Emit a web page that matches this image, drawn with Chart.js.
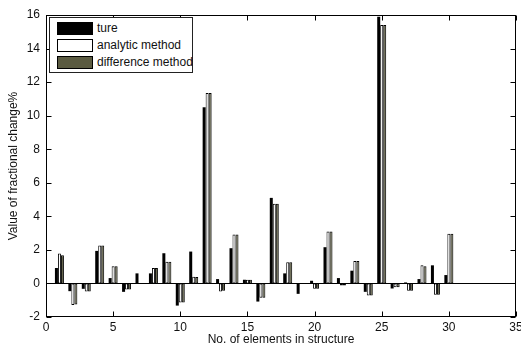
<!DOCTYPE html>
<html>
<head>
<meta charset="utf-8">
<script src="https://cdn.jsdelivr.net/npm/chart.js@4/dist/chart.umd.min.js"></script>
<style>
  html, body { margin: 0; padding: 0; background: #fff; }
  #wrap { position: relative; width: 521px; height: 349px; }
  #legend {
    position: absolute; left: 49px; top: 17px; width: 142px; height: 54px;
    border: 1px solid #222; background: #fff; box-sizing: content-box;
    font-family: "Liberation Sans", Arial, sans-serif; font-size: 12px; color: #111;
  }
  .row { position: absolute; left: 7px; height: 13px; display: flex; align-items: center; }
  .sw { width: 34px; height: 11px; border: 1px solid #000; margin-right: 4px; }
  .lbl { line-height: 13px; white-space: nowrap; }
</style>
</head>
<body>
<div id="wrap">
  <canvas id="c" width="521" height="349"></canvas>
  <div id="legend"></div>
</div>
<script>
const categories = [1,2,3,4,5,6,7,8,9,10,11,12,13,14,15,16,17,18,19,20,21,22,23,24,25,26,27,28,29,30];
const ture       = [0.92,-0.46,-0.32,1.94,0.32,-0.50,0.60,0.60,1.80,-1.32,1.90,10.50,0.26,2.10,0.22,-1.08,5.10,0.60,-0.62,0.16,2.16,0.32,0.76,-0.50,15.90,-0.30,0.06,0.26,1.08,0.50];
const analytic   = [1.78,-1.28,-0.48,2.26,1.02,-0.36,0.00,0.92,1.30,-1.14,0.40,11.35,-0.48,2.92,0.22,-0.86,4.75,1.26,0.00,-0.32,3.10,-0.12,1.34,-0.72,15.40,-0.22,-0.44,1.08,-0.68,2.96];
const difference = [1.68,-1.26,-0.48,2.26,1.02,-0.36,0.00,0.92,1.30,-1.14,0.38,11.35,-0.44,2.92,0.22,-0.86,4.75,1.26,0.00,-0.32,3.10,-0.12,1.34,-0.72,15.40,-0.22,-0.44,1.02,-0.68,2.96];
const seriesNames = ["ture", "analytic method", "difference method"];
const xTicks = [0,5,10,15,20,25,30,35];
const yTicks = [-2,0,2,4,6,8,10,12,14,16];

const fills = ["#000000", "#ffffff", "#5a5a40"];
const FONT = "'Liberation Sans', Arial, sans-serif";
const TXT = '#111';

function pts(vals) { return categories.map((c, i) => ({ x: c, y: vals[i] })); }

// HTML legend
const legend = document.getElementById('legend');
seriesNames.forEach((n, i) => {
  const r = document.createElement('div');
  r.className = 'row';
  r.style.top = (4 + i * 17) + 'px';
  r.innerHTML = '<div class="sw" style="background:' + fills[i] + '"></div><span class="lbl">' + n + '</span>';
  legend.appendChild(r);
});

const framePlugin = {
  id: 'frame',
  afterDatasetsDraw(chart) {
    const { ctx, chartArea: a, scales } = chart;
    ctx.save();
    ctx.strokeStyle = '#000';
    ctx.lineWidth = 1;
    const y0 = Math.round(scales.y.getPixelForValue(0)) + 0.5;
    ctx.beginPath(); ctx.moveTo(a.left, y0); ctx.lineTo(a.right, y0); ctx.stroke();
    const L = Math.round(a.left) + 0.5, R = Math.round(a.right) - 0.5;
    const T = Math.round(a.top) + 0.5, B = Math.round(a.bottom) - 0.5;
    ctx.strokeRect(L, T, R - L, B - T);
    const tl = 5;
    ctx.beginPath();
    xTicks.forEach(v => {
      const x = Math.round(scales.x.getPixelForValue(v)) + 0.5;
      ctx.moveTo(x, B); ctx.lineTo(x, B - tl);
      ctx.moveTo(x, T); ctx.lineTo(x, T + tl);
    });
    yTicks.forEach(v => {
      const y = Math.round(scales.y.getPixelForValue(v)) + 0.5;
      ctx.moveTo(L, y); ctx.lineTo(L + tl, y);
      ctx.moveTo(R, y); ctx.lineTo(R - tl, y);
    });
    ctx.stroke();
    ctx.restore();
  }
};

new Chart(document.getElementById('c'), {
  type: 'bar',
  data: {
    datasets: [
      { label: seriesNames[0], data: pts(ture), backgroundColor: fills[0], borderColor: '#000', borderWidth: 0 },
      { label: seriesNames[1], data: pts(analytic), backgroundColor: fills[1], borderColor: '#000', borderWidth: 1 },
      { label: seriesNames[2], data: pts(difference), backgroundColor: fills[2], borderColor: '#000', borderWidth: 1 }
    ]
  },
  options: {
    responsive: false,
    animation: false,
    events: [],
    layout: { padding: { left: 6, right: 5, top: 15, bottom: 0 } },
    datasets: { bar: { categoryPercentage: 0.67, barPercentage: 1.0, borderSkipped: false, grouped: true } },
    plugins: { legend: { display: false }, tooltip: { enabled: false } },
    scales: {
      x: {
        type: 'linear', min: 0, max: 35, offset: false,
        afterBuildTicks(s) { s.ticks = xTicks.map(v => ({ value: v })); },
        grid: { display: false, drawTicks: false },
        border: { display: false },
        ticks: { color: TXT, font: { family: FONT, size: 12 }, padding: 3, maxRotation: 0, autoSkip: false },
        title: { display: true, text: 'No. of elements in structure', color: TXT, font: { family: FONT, size: 12 }, padding: { top: 0, bottom: 2 } },
        afterFit(s) { s.height = 32; s.paddingLeft = 0; s.paddingRight = 0; }
      },
      y: {
        type: 'linear', min: -2, max: 16,
        afterBuildTicks(s) { s.ticks = yTicks.map(v => ({ value: v })); },
        grid: { display: false, drawTicks: false },
        border: { display: false },
        ticks: { color: TXT, font: { family: FONT, size: 12 }, padding: 6, autoSkip: false },
        title: { display: true, text: 'Value of fractional change%', color: TXT, font: { family: FONT, size: 12 }, padding: { top: 0, bottom: 0 } },
        afterFit(s) { s.width = 40; s.paddingTop = 0; s.paddingBottom = 0; }
      }
    }
  },
  plugins: [framePlugin]
});
</script>
</body>
</html>
